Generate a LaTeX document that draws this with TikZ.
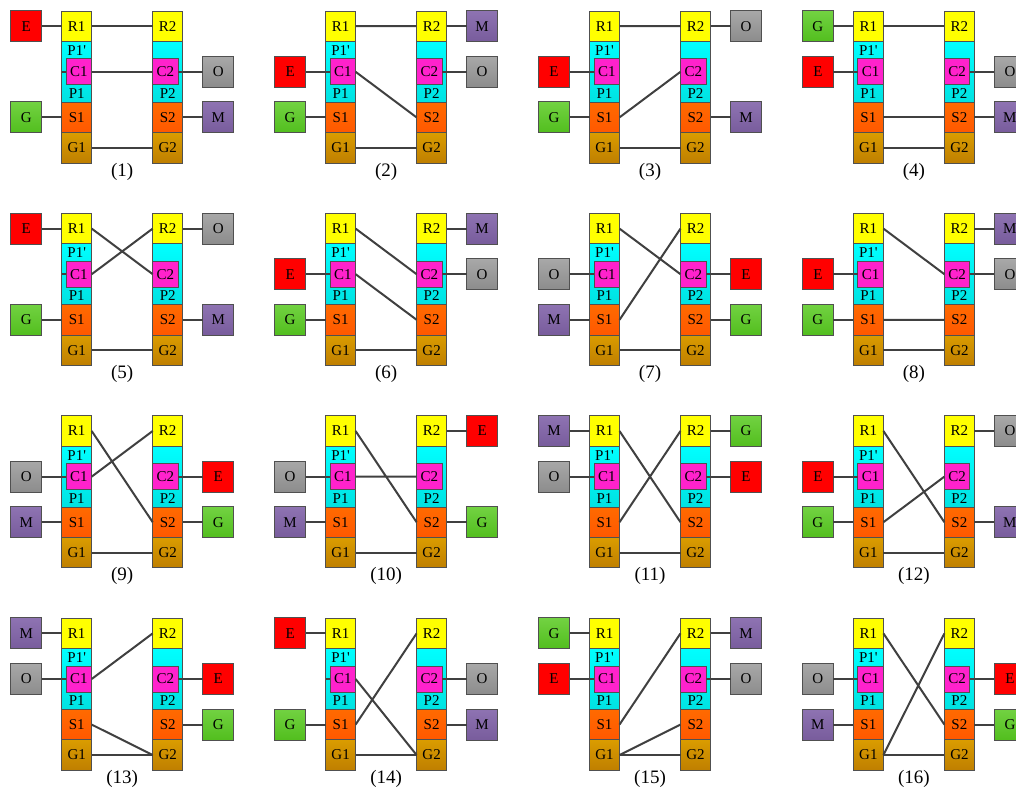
\documentclass[tikz,border=0pt]{standalone}
\usepackage{fontspec}
\setmainfont{Liberation Serif}
\usetikzlibrary{positioning}

\definecolor{edgecol}{HTML}{505050}
\definecolor{wirecol}{HTML}{404040}
\definecolor{rcol}{HTML}{FFFF00}
\definecolor{ktop}{HTML}{00FFFF}
\definecolor{kbot}{HTML}{00E2E2}
\definecolor{ccol}{HTML}{FF22CC}
\definecolor{stop}{HTML}{FF6A00}
\definecolor{sbot}{HTML}{FF5800}
\definecolor{gtop}{HTML}{DA9C00}
\definecolor{gbot}{HTML}{BF7F00}
\definecolor{ered}{HTML}{FF0000}
\definecolor{grtop}{HTML}{72D242}
\definecolor{grbot}{HTML}{52BE1E}
\definecolor{mtop}{HTML}{8E73B2}
\definecolor{mbot}{HTML}{785C9C}
\definecolor{otop}{HTML}{A8A8A8}
\definecolor{obot}{HTML}{8C8C8C}

\tikzset{
  cell/.style={draw=edgecol, line width=0.9pt, minimum width=30pt, minimum height=30.4pt,
    inner sep=0pt, outer sep=0pt, font=\fontsize{15}{18}\selectfont},
  ext/.style={cell, minimum width=31pt, minimum height=31pt},
  ebox/.style={fill=ered},
  gbox/.style={top color=grtop, bottom color=grbot},
  mbox/.style={top color=mtop, bottom color=mbot},
  obox/.style={top color=otop, bottom color=obot},
  wire/.style={draw=wirecol, line width=2pt},
  tag/.style={inner sep=0pt, font=\fontsize{15}{18}\selectfont},
  caption/.style={inner sep=0pt, font=\fontsize{19}{22}\selectfont}
}

% two columns of one panel: x, y of the top left corner, panel number
\newcommand{\colpair}[3]{%
  \begin{scope}[shift={(#1,#2)}]
    % left column
    \node[cell,fill=rcol] (R1-#3) at (15,15.2) {R1};
    \node[cell,top color=ktop,bottom color=kbot,minimum height=60.8pt] (K1-#3) at (15,60.8) {};
    \node[tag] at (15,39.3) {P1\textquotesingle};
    \node[tag] at (15,82.6) {P1};
    \node[cell,fill=ccol,minimum width=25.5pt,minimum height=26pt] (C1-#3) at (17.25,60.8) {C1};
    \node[cell,top color=stop,bottom color=sbot] (S1-#3) at (15,106.4) {S1};
    \node[cell,top color=gtop,bottom color=gbot] (G1-#3) at (15,136.8) {G1};
    \draw[wire] (K1-#3.west) -- (C1-#3.west);
    % right column
    \node[cell,fill=rcol] (R2-#3) at (106,15.2) {R2};
    \node[cell,top color=ktop,bottom color=kbot,minimum height=60.8pt] (K2-#3) at (106,60.8) {};
    \node[tag] at (106,82.6) {P2};
    \node[cell,fill=ccol,minimum width=25.5pt,minimum height=26pt] (C2-#3) at (103.75,60.8) {C2};
    \node[cell,top color=stop,bottom color=sbot] (S2-#3) at (106,106.4) {S2};
    \node[cell,top color=gtop,bottom color=gbot] (G2-#3) at (106,136.8) {G2};
    \draw[wire] (G1-#3.east) -- (G2-#3.west);
    \node[caption] (cap-#3) at (60.5,160.5) {(#3)};
  \end{scope}}

\begin{document}
\begin{tikzpicture}[x=1pt,y=-1pt]
    \clip (0,0) rectangle (1016,792);

    % Panel 1
    \colpair{61.7}{11}{1}
    \node[ext,ebox,left=20pt of R1-1] (E-1) {E};
    \node[ext,gbox,left=20pt of S1-1] (G-1) {G};
    \node[ext,obox,right=20pt of K2-1] (O-1) {O};
    \node[ext,mbox,right=20pt of S2-1] (M-1) {M};
    \draw[wire] (E-1) -- (R1-1) (G-1) -- (S1-1) (C2-1) -- (O-1) (S2-1) -- (M-1);
    \draw[wire] (R1-1.east) -- (R2-1.west) (C1-1.east) -- (C2-1.west);

    % Panel 2
    \colpair{325.6}{11}{2}
    \node[ext,ebox,left=20pt of K1-2] (E-2) {E};
    \node[ext,gbox,left=20pt of S1-2] (G-2) {G};
    \node[ext,mbox,right=20pt of R2-2] (M-2) {M};
    \node[ext,obox,right=20pt of K2-2] (O-2) {O};
    \draw[wire] (E-2) -- (C1-2) (G-2) -- (S1-2) (R2-2) -- (M-2) (C2-2) -- (O-2);
    \draw[wire] (R1-2.east) -- (R2-2.west) (C1-2.east) -- (S2-2.west);

    % Panel 3
    \colpair{589.5}{11}{3}
    \node[ext,ebox,left=20pt of K1-3] (E-3) {E};
    \node[ext,gbox,left=20pt of S1-3] (G-3) {G};
    \node[ext,obox,right=20pt of R2-3] (O-3) {O};
    \node[ext,mbox,right=20pt of S2-3] (M-3) {M};
    \draw[wire] (E-3) -- (C1-3) (G-3) -- (S1-3) (R2-3) -- (O-3) (S2-3) -- (M-3);
    \draw[wire] (R1-3.east) -- (R2-3.west) (S1-3.east) -- (C2-3.west);

    % Panel 4
    \colpair{853.4}{11}{4}
    \node[ext,gbox,left=20pt of R1-4] (G-4) {G};
    \node[ext,ebox,left=20pt of K1-4] (E-4) {E};
    \node[ext,obox,right=20pt of K2-4] (O-4) {O};
    \node[ext,mbox,right=20pt of S2-4] (M-4) {M};
    \draw[wire] (G-4) -- (R1-4) (E-4) -- (C1-4) (C2-4) -- (O-4) (S2-4) -- (M-4);
    \draw[wire] (R1-4.east) -- (R2-4.west) (S1-4.east) -- (S2-4.west);

    % Panel 5
    \colpair{61.7}{213.4}{5}
    \node[ext,ebox,left=20pt of R1-5] (E-5) {E};
    \node[ext,gbox,left=20pt of S1-5] (G-5) {G};
    \node[ext,obox,right=20pt of R2-5] (O-5) {O};
    \node[ext,mbox,right=20pt of S2-5] (M-5) {M};
    \draw[wire] (E-5) -- (R1-5) (G-5) -- (S1-5) (R2-5) -- (O-5) (S2-5) -- (M-5);
    \draw[wire] (R1-5.east) -- (C2-5.west) (C1-5.east) -- (R2-5.west);

    % Panel 6
    \colpair{325.6}{213.4}{6}
    \node[ext,ebox,left=20pt of K1-6] (E-6) {E};
    \node[ext,gbox,left=20pt of S1-6] (G-6) {G};
    \node[ext,mbox,right=20pt of R2-6] (M-6) {M};
    \node[ext,obox,right=20pt of K2-6] (O-6) {O};
    \draw[wire] (E-6) -- (C1-6) (G-6) -- (S1-6) (R2-6) -- (M-6) (C2-6) -- (O-6);
    \draw[wire] (R1-6.east) -- (C2-6.west) (C1-6.east) -- (S2-6.west);

    % Panel 7
    \colpair{589.5}{213.4}{7}
    \node[ext,obox,left=20pt of K1-7] (O-7) {O};
    \node[ext,mbox,left=20pt of S1-7] (M-7) {M};
    \node[ext,ebox,right=20pt of K2-7] (E-7) {E};
    \node[ext,gbox,right=20pt of S2-7] (G-7) {G};
    \draw[wire] (O-7) -- (C1-7) (M-7) -- (S1-7) (C2-7) -- (E-7) (S2-7) -- (G-7);
    \draw[wire] (R1-7.east) -- (C2-7.west) (S1-7.east) -- (R2-7.west);

    % Panel 8
    \colpair{853.4}{213.4}{8}
    \node[ext,ebox,left=20pt of K1-8] (E-8) {E};
    \node[ext,gbox,left=20pt of S1-8] (G-8) {G};
    \node[ext,mbox,right=20pt of R2-8] (M-8) {M};
    \node[ext,obox,right=20pt of K2-8] (O-8) {O};
    \draw[wire] (E-8) -- (C1-8) (G-8) -- (S1-8) (R2-8) -- (M-8) (C2-8) -- (O-8);
    \draw[wire] (R1-8.east) -- (C2-8.west) (S1-8.east) -- (S2-8.west);

    % Panel 9
    \colpair{61.7}{415.8}{9}
    \node[ext,obox,left=20pt of K1-9] (O-9) {O};
    \node[ext,mbox,left=20pt of S1-9] (M-9) {M};
    \node[ext,ebox,right=20pt of K2-9] (E-9) {E};
    \node[ext,gbox,right=20pt of S2-9] (G-9) {G};
    \draw[wire] (O-9) -- (C1-9) (M-9) -- (S1-9) (C2-9) -- (E-9) (S2-9) -- (G-9);
    \draw[wire] (R1-9.east) -- (S2-9.west) (C1-9.east) -- (R2-9.west);

    % Panel 10
    \colpair{325.6}{415.8}{10}
    \node[ext,obox,left=20pt of K1-10] (O-10) {O};
    \node[ext,mbox,left=20pt of S1-10] (M-10) {M};
    \node[ext,ebox,right=20pt of R2-10] (E-10) {E};
    \node[ext,gbox,right=20pt of S2-10] (G-10) {G};
    \draw[wire] (O-10) -- (C1-10) (M-10) -- (S1-10) (R2-10) -- (E-10) (S2-10) -- (G-10);
    \draw[wire] (R1-10.east) -- (S2-10.west) (C1-10.east) -- (C2-10.west);

    % Panel 11
    \colpair{589.5}{415.8}{11}
    \node[ext,mbox,left=20pt of R1-11] (M-11) {M};
    \node[ext,obox,left=20pt of K1-11] (O-11) {O};
    \node[ext,gbox,right=20pt of R2-11] (G-11) {G};
    \node[ext,ebox,right=20pt of K2-11] (E-11) {E};
    \draw[wire] (M-11) -- (R1-11) (O-11) -- (C1-11) (R2-11) -- (G-11) (C2-11) -- (E-11);
    \draw[wire] (R1-11.east) -- (S2-11.west) (S1-11.east) -- (R2-11.west);

    % Panel 12
    \colpair{853.4}{415.8}{12}
    \node[ext,ebox,left=20pt of K1-12] (E-12) {E};
    \node[ext,gbox,left=20pt of S1-12] (G-12) {G};
    \node[ext,obox,right=20pt of R2-12] (O-12) {O};
    \node[ext,mbox,right=20pt of S2-12] (M-12) {M};
    \draw[wire] (E-12) -- (C1-12) (G-12) -- (S1-12) (R2-12) -- (O-12) (S2-12) -- (M-12);
    \draw[wire] (R1-12.east) -- (S2-12.west) (S1-12.east) -- (C2-12.west);

    % Panel 13
    \colpair{61.7}{618.2}{13}
    \node[ext,mbox,left=20pt of R1-13] (M-13) {M};
    \node[ext,obox,left=20pt of K1-13] (O-13) {O};
    \node[ext,ebox,right=20pt of K2-13] (E-13) {E};
    \node[ext,gbox,right=20pt of S2-13] (G-13) {G};
    \draw[wire] (M-13) -- (R1-13) (O-13) -- (C1-13) (C2-13) -- (E-13) (S2-13) -- (G-13);
    \draw[wire] (C1-13.east) -- (R2-13.west) (S1-13.east) -- (G2-13.west);

    % Panel 14
    \colpair{325.6}{618.2}{14}
    \node[ext,ebox,left=20pt of R1-14] (E-14) {E};
    \node[ext,gbox,left=20pt of S1-14] (G-14) {G};
    \node[ext,obox,right=20pt of K2-14] (O-14) {O};
    \node[ext,mbox,right=20pt of S2-14] (M-14) {M};
    \draw[wire] (E-14) -- (R1-14) (G-14) -- (S1-14) (C2-14) -- (O-14) (S2-14) -- (M-14);
    \draw[wire] (S1-14.east) -- (R2-14.west) (C1-14.east) -- (G2-14.west);

    % Panel 15
    \colpair{589.5}{618.2}{15}
    \node[ext,gbox,left=20pt of R1-15] (G-15) {G};
    \node[ext,ebox,left=20pt of K1-15] (E-15) {E};
    \node[ext,mbox,right=20pt of R2-15] (M-15) {M};
    \node[ext,obox,right=20pt of K2-15] (O-15) {O};
    \draw[wire] (G-15) -- (R1-15) (E-15) -- (C1-15) (R2-15) -- (M-15) (C2-15) -- (O-15);
    \draw[wire] (S1-15.east) -- (R2-15.west) (G1-15.east) -- (S2-15.west);

    % Panel 16
    \colpair{853.4}{618.2}{16}
    \node[ext,obox,left=20pt of K1-16] (O-16) {O};
    \node[ext,mbox,left=20pt of S1-16] (M-16) {M};
    \node[ext,ebox,right=20pt of K2-16] (E-16) {E};
    \node[ext,gbox,right=20pt of S2-16] (G-16) {G};
    \draw[wire] (O-16) -- (C1-16) (M-16) -- (S1-16) (C2-16) -- (E-16) (S2-16) -- (G-16);
    \draw[wire] (R1-16.east) -- (S2-16.west) (G1-16.east) -- (R2-16.west);
\end{tikzpicture}
\end{document}
